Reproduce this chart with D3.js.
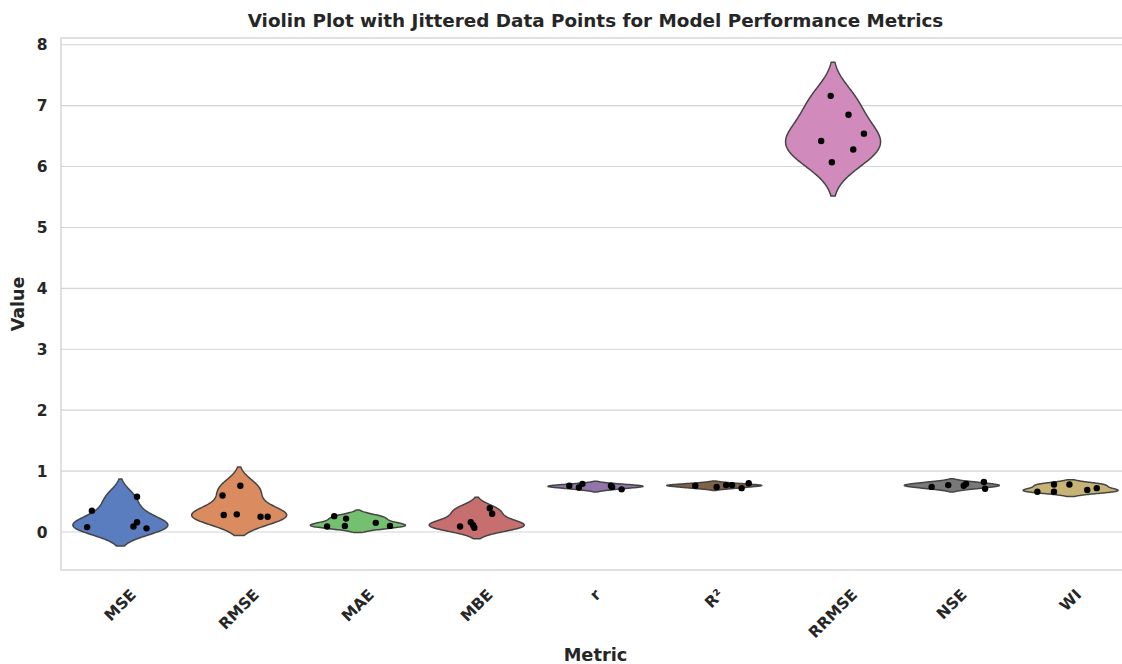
<!DOCTYPE html>
<html>
<head>
<meta charset="utf-8">
<script src="https://cdn.jsdelivr.net/npm/d3@7/dist/d3.min.js"></script>
<style>
  body { margin: 0; background: #fff; }
  text { font-family: "DejaVu Sans", sans-serif; font-weight: bold; fill: #262626; }
</style>
</head>
<body>
<svg id="chart"></svg>
<script>
const metrics = ["MSE", "RMSE", "MAE", "MBE", "r", "R²", "RRMSE", "NSE", "WI"];
const palette = ["#4878d0", "#ee854a", "#6acc64", "#d65f5f", "#956cb4", "#8c613c", "#dc7ec0", "#797979", "#d5bb67"];
const yTicks = [0, 1, 2, 3, 4, 5, 6, 7, 8];

// values, one array per metric
const mseValues   = [0.35, 0.08, 0.58, 0.16, 0.09, 0.06];
const rmseValues  = [0.60, 0.76, 0.28, 0.29, 0.25, 0.25];
const maeValues   = [0.26, 0.22, 0.10, 0.09, 0.15, 0.10];
const mbeValues   = [0.39, 0.30, 0.16, 0.11, 0.07, 0.09];
const rValues     = [0.76, 0.73, 0.79, 0.76, 0.74, 0.70];
const r2Values    = [0.76, 0.74, 0.77, 0.77, 0.72, 0.80];
const rrmseValues = [7.16, 6.85, 6.54, 6.42, 6.28, 6.07];
const nseValues   = [0.74, 0.77, 0.76, 0.79, 0.82, 0.71];
const wiValues    = [0.66, 0.78, 0.66, 0.78, 0.69, 0.72];

// horizontal jitter of each point, in category units
const mseJitter   = [-0.24, -0.28, 0.14, 0.14, 0.11, 0.22];
const rmseJitter  = [-0.14, 0.01, -0.13, -0.02, 0.18, 0.24];
const maeJitter   = [-0.20, -0.10, -0.11, -0.26, 0.15, 0.27];
const mbeJitter   = [0.11, 0.13, -0.05, -0.03, -0.02, -0.14];
const rJitter     = [-0.22, -0.14, -0.11, 0.13, 0.14, 0.22];
const r2Jitter    = [-0.16, 0.02, 0.10, 0.15, 0.23, 0.29];
const rrmseJitter = [-0.02, 0.13, 0.26, -0.10, 0.17, -0.01];
const nseJitter   = [-0.17, -0.03, 0.10, 0.12, 0.27, 0.28];
const wiJitter    = [-0.28, -0.14, -0.14, -0.01, 0.14, 0.22];

const allValues = [mseValues, rmseValues, maeValues, mbeValues, rValues, r2Values, rrmseValues, nseValues, wiValues];
const allJitter = [mseJitter, rmseJitter, maeJitter, mbeJitter, rJitter, r2Jitter, rrmseJitter, nseJitter, wiJitter];

const width = 1122, height = 664;
const plot = { left: 61, top: 38, right: 1130, bottom: 570 };

const svg = d3.select("#chart").attr("width", width).attr("height", height);

svg.append("clipPath").attr("id", "clip")
  .append("rect").attr("x", 0).attr("y", 0).attr("width", width).attr("height", height);

const x = d3.scaleBand().domain(metrics).range([plot.left, plot.right]).padding(0);
const y = d3.scaleLinear().domain([-0.624, 8.11]).range([plot.bottom, plot.top]);
const step = x.step();

// gridlines
svg.append("g")
  .selectAll("line")
  .data(yTicks)
  .join("line")
  .attr("x1", plot.left).attr("x2", plot.right)
  .attr("y1", d => y(d)).attr("y2", d => y(d))
  .attr("stroke", "#d4d4d4").attr("stroke-width", 1.1);

// frame
svg.append("rect")
  .attr("x", plot.left).attr("y", plot.top)
  .attr("width", plot.right - plot.left).attr("height", plot.bottom - plot.top)
  .attr("fill", "none").attr("stroke", "#cfcfcf").attr("stroke-width", 1.25);

// kde like seaborn: gaussian kernel, scott bandwidth, cut = 2
function violinPath(vals, cx) {
  const n = vals.length;
  const sd = d3.deviation(vals);
  const bw = sd * Math.pow(n, -0.2);
  const lo = d3.min(vals) - 2 * bw, hi = d3.max(vals) + 2 * bw;
  const grid = d3.range(100).map(i => lo + (hi - lo) * i / 99);
  const dens = grid.map(g => d3.sum(vals, v => Math.exp(-0.5 * ((g - v) / bw) ** 2)));
  const maxD = d3.max(dens);
  const half = 0.4 * step;
  const pts = grid.map((g, i) => [cx + half * dens[i] / maxD, y(g)]);
  const back = grid.map((g, i) => [cx - half * dens[i] / maxD, y(g)]).reverse();
  return d3.line()(pts.concat(back)) + "Z";
}

const violins = svg.append("g").attr("clip-path", "url(#clip)");

metrics.forEach((m, i) => {
  const cx = x(m) + step / 2;
  const c = d3.hsl(palette[i]);
  c.s *= 0.75;
  violins.append("path")
    .attr("d", violinPath(allValues[i], cx))
    .attr("fill", c.formatHex())
    .attr("stroke", "#444")
    .attr("stroke-width", 1.5)
    .attr("stroke-linejoin", "round");

  violins.append("g")
    .selectAll("circle")
    .data(allValues[i].map((v, k) => ({ v, j: allJitter[i][k] })))
    .join("circle")
    .attr("cx", d => cx + d.j * step)
    .attr("cy", d => y(d.v))
    .attr("r", 3.2)
    .attr("fill", "#000");
});

// y axis tick labels
svg.append("g")
  .selectAll("text")
  .data(yTicks)
  .join("text")
  .attr("x", plot.left - 13.5)
  .attr("y", d => y(d))
  .attr("dy", "0.36em")
  .attr("text-anchor", "end")
  .attr("font-size", 15.5)
  .text(d => d);

// x axis tick labels, rotated 45 and centred on the tick like matplotlib
const xLabels = svg.append("g")
  .selectAll("text")
  .data(metrics)
  .join("text")
  .attr("font-size", 15.5)
  .attr("text-anchor", "middle")
  .attr("dominant-baseline", "central")
  .text(d => d);

xLabels.each(function(d) {
  const w = this.getComputedTextLength();
  const h = 17.5;
  const cx = x(d) + step / 2;
  const cy = 586 + (w + h) * Math.SQRT1_2 / 2;
  d3.select(this).attr("transform", `translate(${cx},${cy}) rotate(-45)`);
});

// axis titles
svg.append("text")
  .attr("x", (plot.left + plot.right) / 2)
  .attr("y", 661)
  .attr("text-anchor", "middle")
  .attr("font-size", 17.8)
  .text("Metric");

svg.append("text")
  .attr("transform", `translate(24,${(plot.top + plot.bottom) / 2}) rotate(-90)`)
  .attr("text-anchor", "middle")
  .attr("font-size", 17.5)
  .text("Value");

const title = svg.append("text")
  .attr("x", (plot.left + plot.right) / 2)
  .attr("y", 26.5)
  .attr("text-anchor", "middle")
  .attr("font-size", 16.5)
  .text("Violin Plot with Jittered Data Points for Model Performance Metrics");
// size the title to the width it has in the reference (about 696px)
const tw = title.node().getComputedTextLength();
title.attr("font-size", 16.5 * 696 / tw);
</script>
</body>
</html>
